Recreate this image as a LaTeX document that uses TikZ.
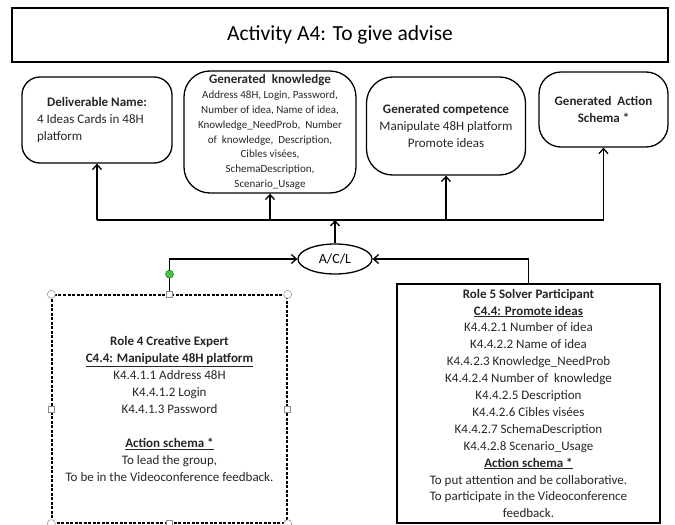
\documentclass[tikz,border=0pt]{standalone}
\usepackage{fontspec}
\setmainfont{Carlito}
\usetikzlibrary{positioning, shapes.geometric, arrows.meta}

\tikzset{
  outcome/.style={draw, line width=1.3pt, rounded corners=22pt, inner sep=0pt,
    align=center, text=black!85, font=\fontsize{13}{17}\selectfont},
  rolebox/.style={draw, line width=1.3pt, inner sep=0pt, align=center,
    text=black!85, font=\fontsize{13}{16.9}\selectfont},
  ring/.style={circle, draw=black!45, fill=white, line width=0.5pt,
    inner sep=0pt, minimum size=8pt},
  knob/.style={rectangle, draw=black!45, fill=white, line width=0.5pt,
    inner sep=0pt, minimum size=6pt},
  spin/.style={circle, draw=green!40!black, fill=green!65!black!70, line width=0.4pt,
    inner sep=0pt, minimum size=8pt}
}

\begin{document}
\begin{tikzpicture}[x=1pt, y=-1pt]

\useasboundingbox (0,0) rectangle (675,525);

% title
\node[draw, line width=1.1pt, minimum width=656pt, minimum height=54pt, inner sep=0pt,
  font=\fontsize{21.5}{25}\selectfont] (title) at (340,35) {Activity A4: To give advise};

% what the activity produces
\node[outcome, rounded corners=18pt, minimum width=150pt, minimum height=86pt,
  align=left] (deliv) at (97,120)
  {\makebox[120pt]{\textbf{Deliverable Name:}}\\ 4 Ideas Cards in 48H\\ platform};
\node[outcome, rounded corners=26pt, minimum width=172pt, minimum height=122pt,
  font=\fontsize{11}{14.8}\selectfont] (know) at (270,132)
  {{\fontsize{13}{14.8}\selectfont\textbf{Generated\ \ knowledge}}\\
   Address 48H, Login, Password,\\ Number of idea, Name of idea,\\
   Knowledge\_NeedProb,\ \ Number\\ of\ \ knowledge,\ \ Description,\\
   Cibles visées,\\ SchemaDescription,\\ Scenario\_Usage};
\node[outcome, rounded corners=26pt, minimum width=159pt, minimum height=98pt] (comp) at (446,126)
  {\textbf{Generated competence}\\ Manipulate 48H platform\\ Promote ideas};
\node[outcome, minimum width=129pt, minimum height=75pt] (schema) at (603.5,109.5)
  {\textbf{Generated\ \ Action}\\ \textbf{Schema *}};

% A/C/L
\node[ellipse, draw, line width=1.3pt, minimum width=74pt, minimum height=30pt, inner sep=0pt,
  font=\fontsize{14}{16}\selectfont] (acl) at (335,259) {A/C/L};
\coordinate (bus) at (335,220);

% roles
\node[rolebox, dashed, dash pattern=on 3pt off 1.5pt, minimum width=235pt, minimum height=228pt] (role4) at (169.5,409)
  {\textbf{Role 4 Creative Expert}\\
   \textbf{\underline{C4.4: Manipulate 48H platform}}\\
   K4.4.1.1 Address 48H\\ K4.4.1.2 Login\\ K4.4.1.3 Password\\[16.9pt]
   \textbf{\underline{Action schema *}}\\
   To lead the group,\\ To be in the Videoconference feedback.};
\node[rolebox, minimum width=263pt, minimum height=239pt] (role5) at (528.5,403.5)
  {\textbf{Role 5 Solver Participant}\\
   \textbf{\underline{C4.4: Promote ideas}}\\
   K4.4.2.1 Number of idea\\ K4.4.2.2 Name of idea\\
   K4.4.2.3 Knowledge\_NeedProb\\ K4.4.2.4 Number of\ \ knowledge\\
   K4.4.2.5 Description\\ K4.4.2.6 Cibles visées\\
   K4.4.2.7 SchemaDescription\\ K4.4.2.8 Scenario\_Usage\\
   \textbf{\underline{Action schema *}}\\
   To put attention and be collaborative.\\
   To participate in the Videoconference\\ feedback.};

\begin{scope}[>={Straight Barb[length=5pt, width=9pt]}, line width=1.3pt]
\draw (deliv |- bus) -- (schema |- bus);
\draw[->] (deliv |- bus) -- (deliv.south);
\draw[->] (know |- bus) -- (know.south);
\draw[->] (comp |- bus) -- (comp.south);
\draw[->] (schema |- bus) -- (schema.south);
\draw[->] (acl.north) -- (bus);
\draw[->] (role4.north) |- (acl.west);
\draw[->] (role5.north) |- (acl.east);
\end{scope}

% selection handles on role 4
\node[spin, above=16pt of role4.north] (turn) {};
\foreach \c in {north west, north east, south west, south east}
  \node[ring] at (role4.\c) {};
\foreach \c in {north, south, west, east}
  \node[knob] at (role4.\c) {};

\end{tikzpicture}
\end{document}
